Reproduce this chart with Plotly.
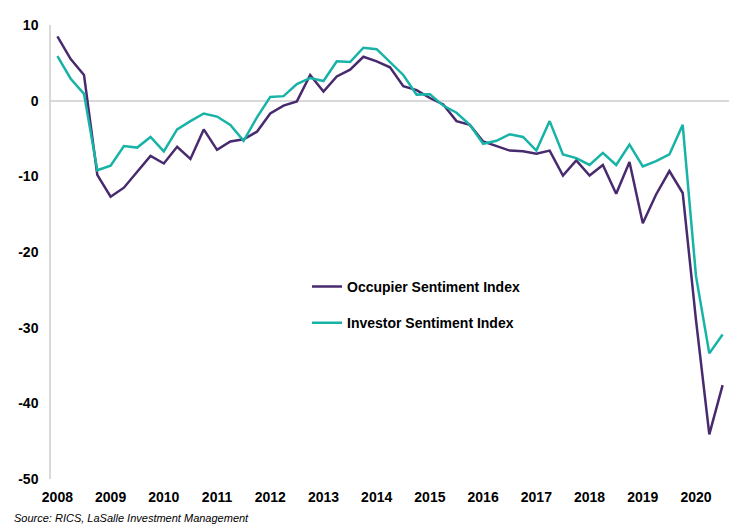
import plotly.graph_objects as go

years = [str(y) for y in range(2008, 2021)]
quarters = list(range(51))  # 2008 Q1 .. 2020 Q3

occupier = [8.5, 5.5, 3.4, -9.8, -12.7, -11.5, -9.4, -7.3, -8.3, -6.1,
            -7.7, -3.8, -6.5, -5.4, -5.1, -4.1, -1.7, -0.65, -0.1, 3.4,
            1.2, 3.2, 4.1, 5.8, 5.2, 4.4, 1.9, 1.4, 0.35, -0.5,
            -2.7, -3.2, -5.4, -6.0, -6.6, -6.7, -7.0, -6.6, -9.9, -7.9,
            -9.9, -8.5, -12.3, -8.1, -16.2, -12.4, -9.3, -12.2, -29.0, -44.1,
            -37.6]
investor = [5.9, 2.9, 0.9, -9.2, -8.6, -6.0, -6.2, -4.8, -6.7, -3.8,
            -2.7, -1.7, -2.1, -3.2, -5.3, -2.2, 0.5, 0.6, 2.2, 3.0,
            2.6, 5.2, 5.1, 7.0, 6.8, 5.1, 3.4, 0.8, 0.85, -0.65,
            -1.6, -3.2, -5.7, -5.3, -4.45, -4.8, -6.6, -2.7, -7.1, -7.6,
            -8.5, -6.9, -8.5, -5.8, -8.7, -8.0, -7.1, -3.2, -23.2, -33.4,
            -30.9]

PURPLE = "#482A6E"
TEAL = "#17B3A6"
FONT = "Liberation Sans, Arial, sans-serif"

fig = go.Figure()
fig.add_trace(go.Scatter(x=quarters, y=occupier, mode="lines",
                         name="Occupier Sentiment Index", legendgroup="a",
                         line=dict(color=PURPLE, width=2.5)))
fig.add_trace(go.Scatter(x=quarters, y=investor, mode="lines",
                         name="Investor Sentiment Index", legendgroup="b",
                         line=dict(color=TEAL, width=2.5)))

fig.update_layout(
    width=738, height=529,
    margin=dict(l=43, r=17, t=9, b=58),
    paper_bgcolor="white", plot_bgcolor="white",
    font=dict(family=FONT, size=14, color="#000000"),
    showlegend=True,
    legend=dict(x=0.3776, y=0.4585, xanchor="left", yanchor="top",
                font=dict(family=FONT, size=14, color="#000000", weight="bold"),
                bgcolor="rgba(0,0,0,0)", tracegroupgap=15,
                traceorder="grouped"),
    xaxis=dict(range=[-0.48, 50.48], tickmode="array",
               tickvals=list(range(0, 51, 4)), ticktext=years,
               showgrid=False, zeroline=False, showline=False, ticks="",
               tickfont=dict(family=FONT, size=14, weight="bold"),
               ticklabelstandoff=8),
    yaxis=dict(range=[-50, 10], tickmode="array",
               tickvals=[10, 0, -10, -20, -30, -40, -50],
               ticktext=["10", "0", "-10", "-20", "-30", "-40", "-50"],
               showgrid=False, zeroline=True, zerolinecolor="#D9D9D9",
               zerolinewidth=1.5,
               showline=True, linecolor="#D9D9D9", linewidth=1.5, ticks="",
               tickfont=dict(family=FONT, size=14, weight="bold"),
               ticklabelstandoff=8),
    annotations=[dict(text="Source: RICS, LaSalle Investment Management",
                      xref="paper", yref="paper", x=-0.058, y=-0.0866,
                      xanchor="left", yanchor="middle", showarrow=False,
                      font=dict(family=FONT, size=11, style="italic",
                                color="#000000"))],
)

fig.write_html("out.html")
